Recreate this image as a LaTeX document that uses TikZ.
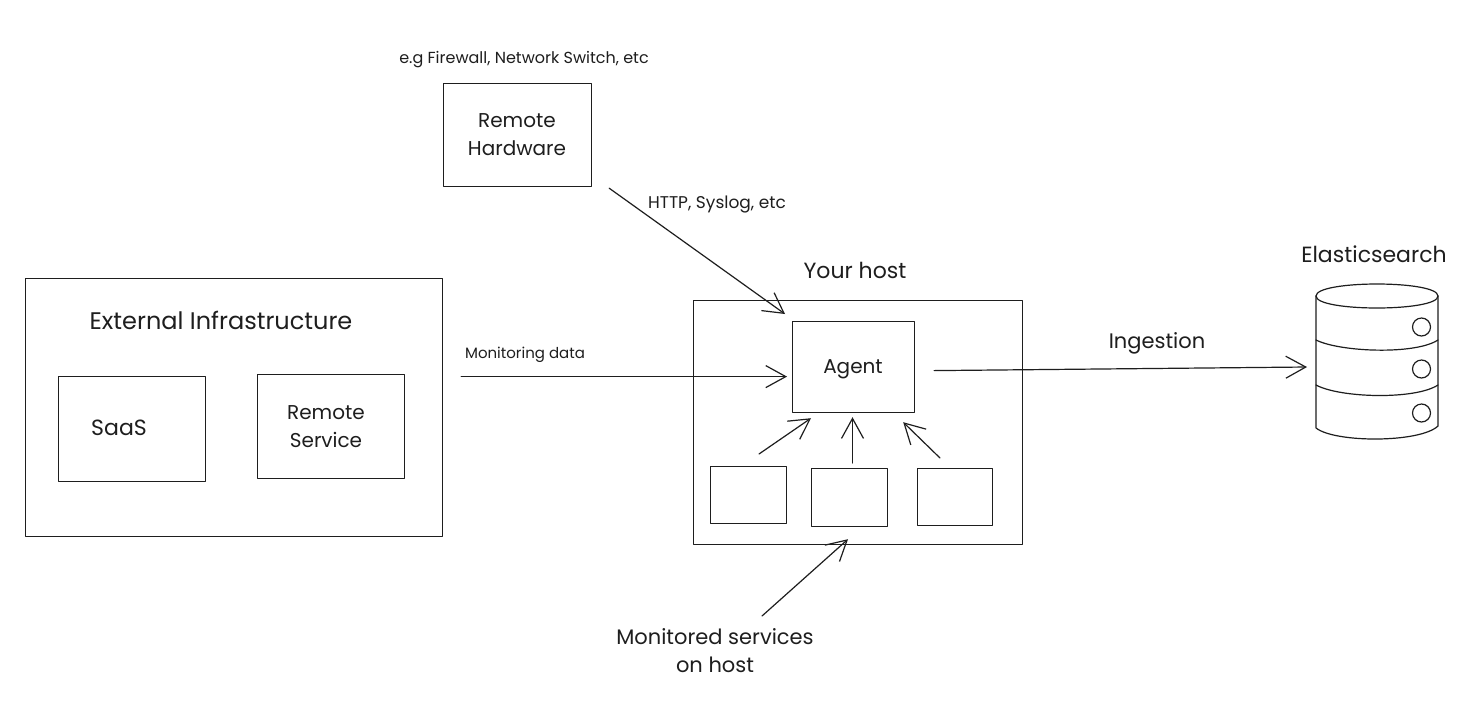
\documentclass[tikz,border=0pt]{standalone}
\usepackage{fontspec}
\setmainfont{Poppins}
\usetikzlibrary{arrows.meta,positioning,calc}
\definecolor{ink}{HTML}{1E1E1E}
\tikzset{
  sk/.style={draw=ink,line width=1.2pt,line join=round,line cap=round},
  boxn/.style={sk,rectangle,inner sep=0pt,anchor=north west},
  txt/.style={text=ink,inner sep=0pt,align=center},
  fsz/.style={font=\fontsize{#1}{28}\selectfont},
  arr/.style={sk,-{Straight Barb[length=20pt,width=22pt,line width=1.2pt]}},
}
\newcommand{\bx}[5]{\node[boxn,minimum width=#4pt-#2pt,minimum height=#5pt-#3pt] (#1) at (#2,#3) {};}
\begin{document}
\begin{tikzpicture}[x=1pt,y=-1pt]
\useasboundingbox (0,0) rectangle (1470,716);
\fill[white] (0,0) rectangle (1470,716);
% boxes
\bx{hardware}{443}{83}{591}{186}
\bx{external}{25}{278}{442}{536}
\bx{saas}{58}{376}{205}{481}
\bx{remote}{257}{374}{404}{478}
\bx{host}{693}{300}{1022}{544}
\bx{agent}{792}{321}{914}{412}
\bx{svca}{710}{466}{786}{523}
\bx{svcb}{811}{468}{887}{526}
\bx{svcc}{917}{468}{992}{525}
% texts
\node[txt,fsz=16] (tnote) at (524,60) {e.g Firewall, Network Switch, etc};
\node[txt,fsz=20] (thw) at (517,135) {Remote\\Hardware};
\node[txt,fsz=17] (thttp) at (717,204) {HTTP, Syslog, etc};
\node[txt,fsz=22] (thost) at (855,270) {Your host};
\node[txt,fsz=24] (text) at (221,320) {External Infrastructure};
\node[txt,fsz=22] (tsaas) at (119,428) {SaaS};
\node[txt,fsz=20] (tremote) at (326,427) {Remote\\Service};
\node[txt,fsz=15] (tmon) at (525,355) {Monitoring data};
\node[txt,fsz=20] (tagent) at (853,369) {Agent};
\node[txt,fsz=21] (tingest) at (1157,343) {Ingestion};
\node[txt,fsz=22] (telastic) at (1374,254) {Elasticsearch};
\node[txt,fsz=21] (tservices) at (715,651) {Monitored services\\on host};
% database
\draw[sk] (1316,296) .. controls (1316,280) and (1438,280) .. (1438,296)
  .. controls (1438,312) and (1316,312) .. (1316,296);
\draw[sk] (1316,296) -- (1316,428) .. controls (1335,443) and (1420,443) .. (1438,426) -- (1438,296);
\draw[sk] (1316,340) .. controls (1340,352) and (1415,355) .. (1438,340);
\draw[sk] (1316,385) .. controls (1340,398) and (1415,400) .. (1438,385);
\node[sk,circle,minimum size=18pt,inner sep=0pt] (lampa) at (1421.5,327) {};
\node[sk,circle,minimum size=18pt,inner sep=0pt] (lampb) at (1421.5,369) {};
\node[sk,circle,minimum size=18pt,inner sep=0pt] (lampc) at (1421.5,413) {};
\coordinate (dbin) at (1307,367);
% connectors
\draw[arr] ([shift={(17,1)}]hardware.south east) -- ([shift={(-7,-7)}]agent.north west);
\draw[arr] ([shift={(18,-31)}]external.east) -- ([shift={(-5,9.5)}]agent.west);
\draw[arr] ([shift={(19,3.5)}]agent.east) -- (dbin);
\draw[arr] ([shift={(49,-12)}]svca.north west) -- ([shift={(19,5)}]agent.south west);
\draw[arr] ([shift={(41.5,-5)}]svcb.north west) -- ([shift={(60.5,4)}]agent.south west);
\draw[arr] ([shift={(23,-10)}]svcc.north west) -- ([shift={(-12,9)}]agent.south east);
\coordinate (svcfrom) at (762,616);
\draw[arr] (svcfrom) -- ([shift={(155,-6)}]host.south west);
\end{tikzpicture}
\end{document}
